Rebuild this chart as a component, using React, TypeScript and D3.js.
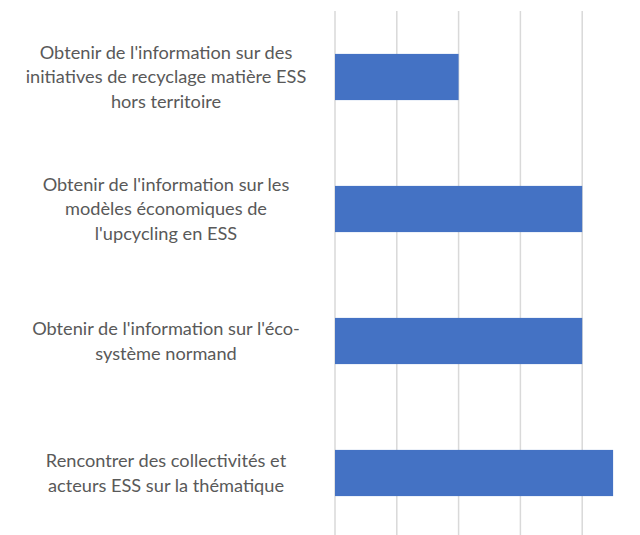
import React from "react";
import * as d3 from "d3";

// categories (top to bottom), each label split into its wrapped lines
const labels: string[][] = [
  ["Obtenir de l'information sur des", "initiatives de recyclage matière ESS", "hors territoire"],
  ["Obtenir de l'information sur les", "modèles économiques de", "l'upcycling en ESS"],
  ["Obtenir de l'information sur l'éco-", "système normand"],
  ["Rencontrer des collectivités et", "acteurs ESS sur la thématique"],
];
const values: number[] = [2, 4, 4, 4.5];
const ticks: number[] = [0, 1, 2, 3, 4, 5];

const W = 640;
const H = 535;

const App = () => {
  const x = d3.scaleLinear().domain([0, 5]).range([335, 644]);
  const y = d3
    .scaleBand<number>()
    .domain(d3.range(labels.length))
    .range([11, 539])
    .paddingInner(0.65)
    .paddingOuter(0.325);

  const lineH = 24.5;
  const labelX = 166;

  return (
    <svg
      width={W}
      height={H}
      style={{ position: "absolute", left: 0, top: 0, background: "#fff" }}
      fontFamily="Lato, 'Open Sans', sans-serif"
    >
      {/* gridlines */}
      {ticks.map((t) => (
        <line
          key={t}
          x1={x(t)}
          x2={x(t)}
          y1={11}
          y2={H}
          stroke="#d9d9d9"
          strokeWidth={1.5}
        />
      ))}

      {/* bars */}
      {values.map((v, i) => (
        <rect
          key={i}
          x={x(0)}
          y={y(i)}
          width={x(v) - x(0)}
          height={y.bandwidth()}
          fill="#4472c4"
        />
      ))}

      {/* category labels */}
      {labels.map((lines, i) => {
        const cy = (y(i) as number) + y.bandwidth() / 2;
        const y0 = cy - ((lines.length - 1) * lineH) / 2;
        return (
          <text
            key={i}
            x={labelX}
            textAnchor="middle"
            fontSize={18.2}
            fill="#595959"
          >
            {lines.map((l, j) => (
              <tspan key={j} x={labelX} y={y0 + j * lineH} dy="0.35em">
                {l}
              </tspan>
            ))}
          </text>
        );
      })}
    </svg>
  );
};

export default App;
